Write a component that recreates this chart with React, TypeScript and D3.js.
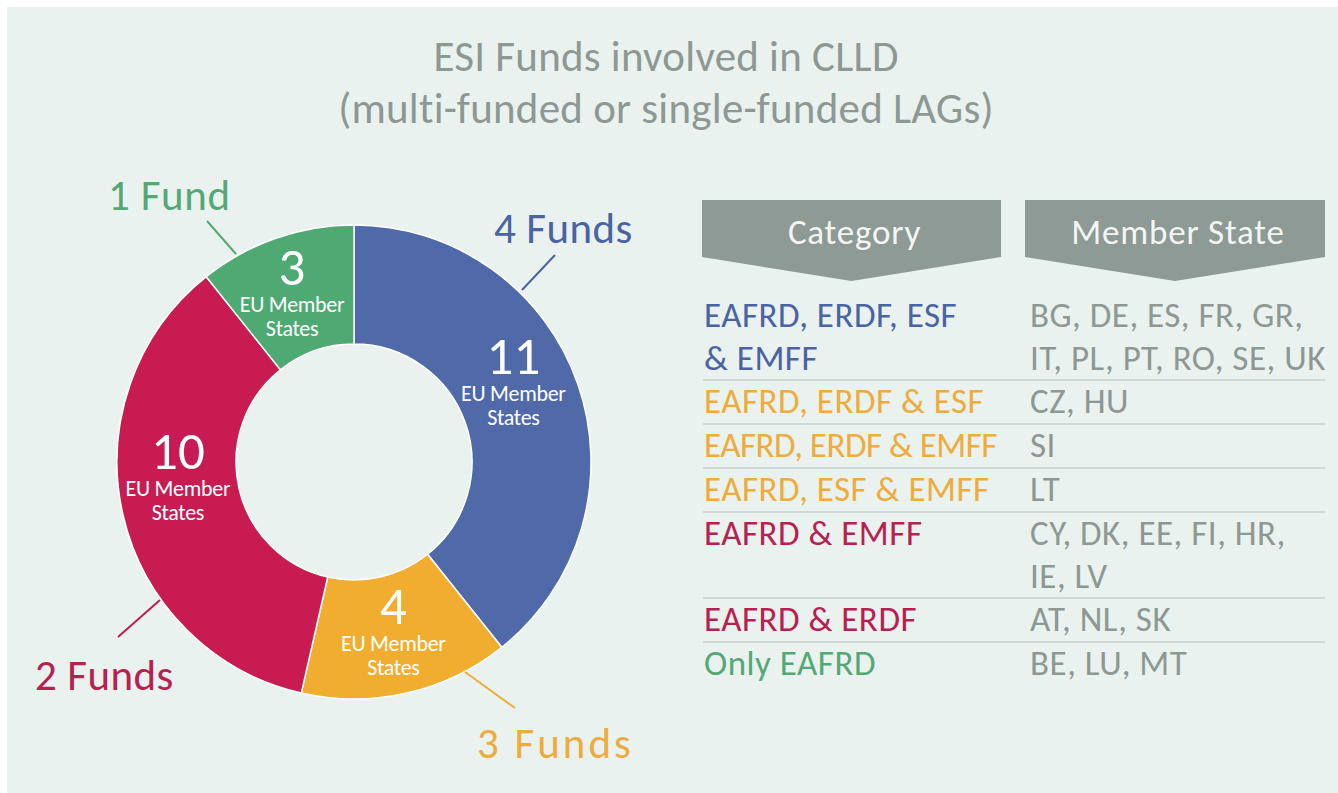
import React from "react";
import * as d3 from "d3";

// ---- data ----
const fundGroups = ["4 Funds", "3 Funds", "2 Funds", "1 Fund"];
const memberStateCounts = [11, 4, 10, 3];
const groupColors = ["#4f69a9", "#f1ad30", "#c71b52", "#4eaa72"];
const groupTextColors = ["#4a63a3", "#efac3c", "#b8204f", "#55a876"];

const categories = [
  ["EAFRD, ERDF, ESF", "& EMFF"],
  ["EAFRD, ERDF & ESF"],
  ["EAFRD, ERDF & EMFF"],
  ["EAFRD, ESF & EMFF"],
  ["EAFRD & EMFF"],
  ["EAFRD & ERDF"],
  ["Only EAFRD"],
];
const categoryGroup = [0, 1, 1, 1, 2, 2, 3];
const memberStates = [
  ["BG, DE, ES, FR, GR,", "IT, PL, PT, RO, SE, UK"],
  ["CZ, HU"],
  ["SI"],
  ["LT"],
  ["CY, DK, EE, FI, HR,", "IE, LV"],
  ["AT, NL, SK"],
  ["BE, LU, MT"],
];

const titleLines = ["ESI Funds involved in CLLD", "(multi-funded or single-funded LAGs)"];
const headers = ["Category", "Member State"];

// ---- layout ----
const W = 1338;
const H = 793;
const FONT = "Carlito, Calibri, Lato, 'Open Sans', sans-serif";
const cx = 354;
const cy = 462;
const rOuter = 237;
const rInner = 118;
const labelAngleNudge = [-6.5, 0, 7, -1.2];
const categorySpacing = [0.5, 0.5, -0.5, 0.5, 0.5, 0.5, 0.5];
const outerLabelSpacing = [0.4, 3, 0.4, 0.6];
const outerLabels = [
  { x: 494, y: 243, line: [[555, 255], [522, 290]] },
  { x: 477, y: 758, line: [[515, 708], [465, 672]] },
  { x: 35, y: 690, line: [[118, 637], [160, 600]] },
  { x: 108, y: 210, line: [[207, 221], [236, 254]] },
];

export default function App() {
  const pie = d3.pie<number>().sort(null).value((d) => d);
  const arcs = pie(memberStateCounts);
  const arc = d3.arc<d3.PieArcDatum<number>>().innerRadius(rInner).outerRadius(rOuter);
  const labelR = 177;

  // table rows layout
  const rowLine = 43;
  const tableTop = 294;
  let yCursor = tableTop;
  const rows = categories.map((cat, i) => {
    const n = Math.max(cat.length, memberStates[i].length);
    const top = yCursor;
    yCursor += n * rowLine + (n > 1 ? 0 : 1);
    return { top, n, bottom: yCursor };
  });

  const headerBox = (x0: number, x1: number) => {
    const mid = (x0 + x1) / 2;
    return `M${x0},200 L${x1},200 L${x1},257 L${mid},281 L${x0},257 Z`;
  };

  return (
    <div style={{ position: "absolute", left: 0, top: 0 }}>
      <svg width={W} height={H} style={{ display: "block", fontFamily: FONT }}>
        <rect x={0} y={0} width={W} height={H} fill="#ffffff" />
        <rect x={7} y={7} width={W - 7} height={H - 7} fill="#e9f2ef" />

        {titleLines.map((t, i) => (
          <text key={i} x={666} y={71 + i * 52} textAnchor="middle" fontSize={43} fill="#8e9893" letterSpacing={0.25}>
            {t}
          </text>
        ))}

        {/* donut */}
        <g transform={`translate(${cx},${cy})`}>
          {arcs.map((a, i) => (
            <path key={i} d={arc(a) || ""} fill={groupColors[i]} stroke="#ffffff" strokeWidth={1.5} />
          ))}
          {arcs.map((a, i) => {
            const ang = (a.startAngle + a.endAngle) / 2 + (labelAngleNudge[i] * Math.PI) / 180;
            const x = labelR * Math.sin(ang);
            const y = -labelR * Math.cos(ang);
            return (
              <g key={i} transform={`translate(${x},${y})`} fill="#ffffff" textAnchor="middle">
                <text y={-11} fontSize={53} fontWeight={300}>
                  {a.data}
                </text>
                <text y={16} fontSize={22} letterSpacing={-0.3}>
                  EU Member
                </text>
                <text y={40} fontSize={22} letterSpacing={-0.3}>
                  States
                </text>
              </g>
            );
          })}
        </g>

        {/* outer labels with leader lines */}
        {outerLabels.map((l, i) => (
          <g key={i}>
            <line
              x1={l.line[0][0]}
              y1={l.line[0][1]}
              x2={l.line[1][0]}
              y2={l.line[1][1]}
              stroke={groupTextColors[i]}
              strokeWidth={2}
            />
            <text x={l.x} y={l.y} fontSize={43} fill={groupTextColors[i]} letterSpacing={outerLabelSpacing[i]}>
              {fundGroups[i]}
            </text>
          </g>
        ))}

        {/* table headers */}
        {[
          [702, 1001],
          [1025, 1325],
        ].map(([x0, x1], i) => (
          <g key={i}>
            <path d={headerBox(x0, x1)} fill="#8d9a95" />
            <text x={(x0 + x1) / 2 + 3} y={244} textAnchor="middle" fontSize={35} fill="#f3f6f3" letterSpacing={0.8}>
              {headers[i]}
            </text>
          </g>
        ))}

        {/* table rows */}
        {rows.map((r, i) => (
          <g key={i}>
            {categories[i].map((t, j) => (
              <text
                key={"c" + j}
                x={704}
                y={r.top + 33 + j * rowLine}
                fontSize={35}
                fill={groupTextColors[categoryGroup[i]]}
                letterSpacing={categorySpacing[i]}
              >
                {t}
              </text>
            ))}
            {memberStates[i].map((t, j) => (
              <text
                key={"m" + j}
                x={1030}
                y={r.top + 33 + j * rowLine}
                fontSize={35}
                fill="#8e9893"
                letterSpacing={0.5}
              >
                {t}
              </text>
            ))}
            {i < rows.length - 1 && (
              <line x1={703} x2={1325} y1={r.bottom} y2={r.bottom} stroke="#c9d1ce" strokeWidth={1.5} />
            )}
          </g>
        ))}
      </svg>
    </div>
  );
}
